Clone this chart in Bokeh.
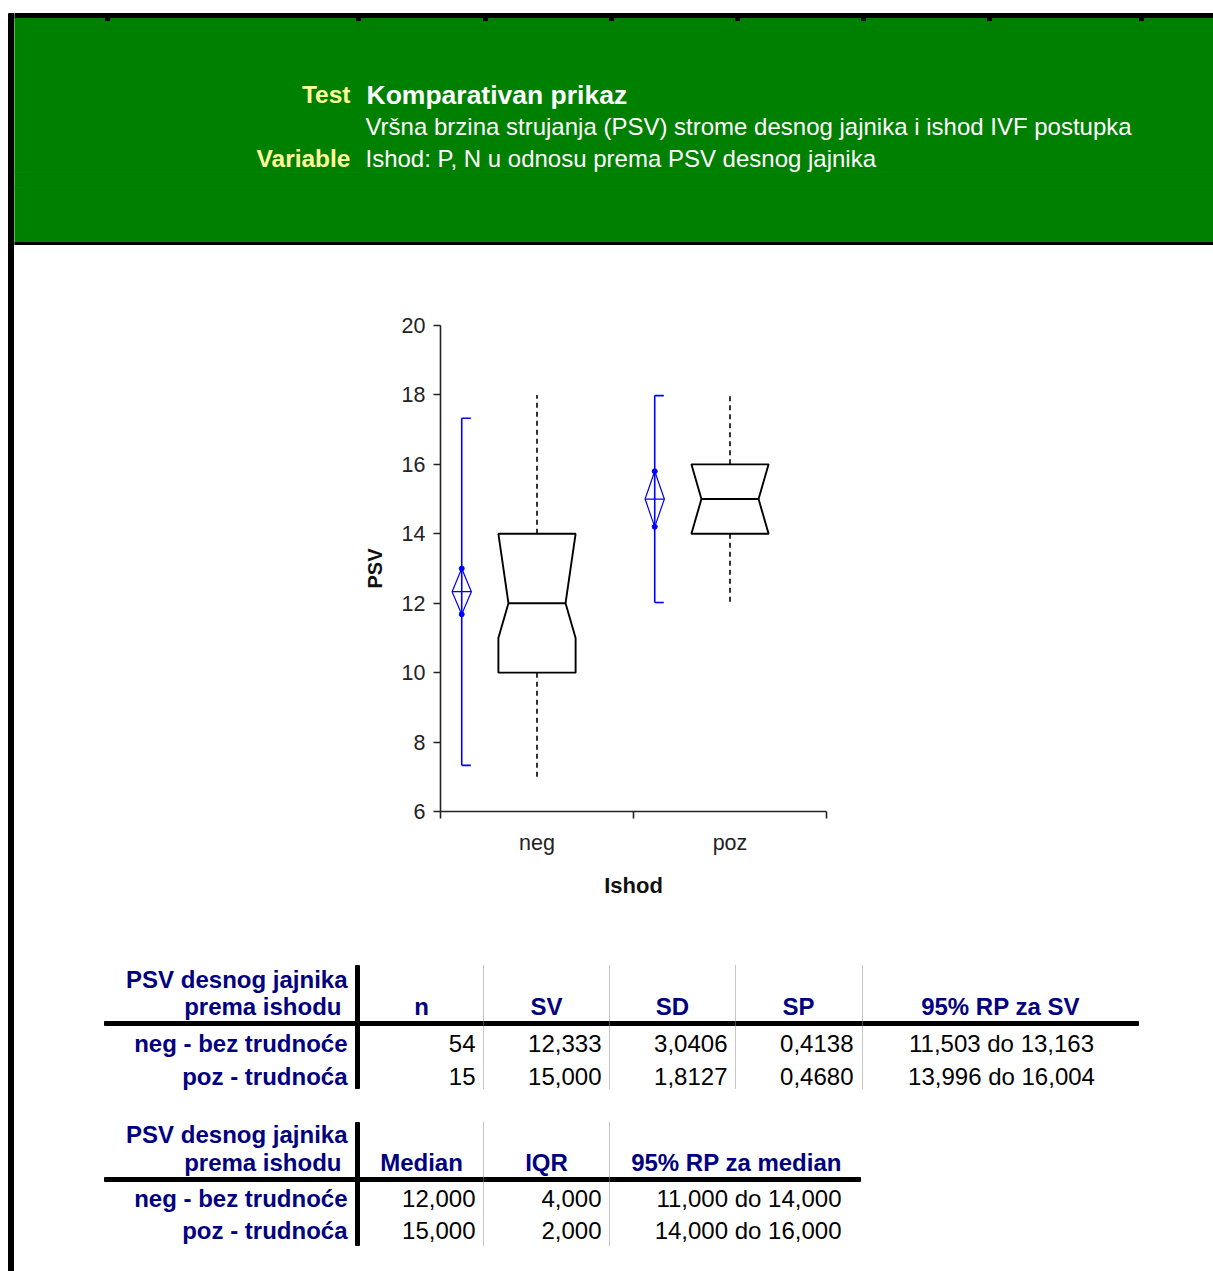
from bokeh.plotting import figure
from bokeh.layouts import row, column
from bokeh.models import FixedTicker, CustomJSTickFormatter, Range1d
from bokeh.embed import file_html
from bokeh.resources import INLINE
from bokeh.core.properties import value

FONT = "Liberation Sans"
NAVY = "#000080"
GREEN = "#008000"
YELLOW = "#FFFF99"

# ---------------- data ----------------
categories = ["neg", "poz"]
row_labels = ["neg - bez trudnoće", "poz - trudnoća"]
n_vals = [54, 15]
mean_vals = [12.333, 15.000]
sd_vals = [3.0406, 1.8127]
se_vals = [0.4138, 0.4680]
mean_ci_lo = [11.503, 13.996]
mean_ci_hi = [13.163, 16.004]
median_vals = [12.0, 15.0]
iqr_vals = [4.0, 2.0]
q1_vals = [10.0, 14.0]
q3_vals = [14.0, 16.0]
median_ci_lo = [11.0, 14.0]
median_ci_hi = [14.0, 16.0]
whisker_lo = [7.0, 12.0]
whisker_hi = [18.0, 18.0]
ref_lo = [7.33, 12.02]          # blue bracket
ref_hi = [17.33, 17.98]
diamond_lo = [11.68, 14.2]      # blue diamond ends
diamond_hi = [13.0, 15.8]
y_ticks = [6, 8, 10, 12, 14, 16, 18, 20]

test_label = "Test"
title_text = "Komparativan prikaz"
subtitle_text = "Vršna brzina strujanja (PSV) strome desnog jajnika i ishod IVF postupka"
variable_label = "Variable"
variable_text = "Ishod: P, N u odnosu prema PSV desnog jajnika"
table_title = ["PSV desnog jajnika", "prema ishodu"]
t1_headers = ["n", "SV", "SD", "SP", "95% RP za SV"]
t2_headers = ["Median", "IQR", "95% RP za median"]


def fmt(v, d):
    return f"{v:.{d}f}".replace(".", ",")


def deco_fig(w, h, x0, x1, y0, y1):
    f = figure(width=w, height=h, x_range=Range1d(x0, x1), y_range=Range1d(y1, y0),
               x_axis_type=None, y_axis_type=None, min_border=0,
               output_backend="svg", toolbar_location=None)
    f.outline_line_color = None
    f.background_fill_color = "white"
    f.border_fill_color = "white"
    f.frame_align = False
    return f


def txt(f, x, y, s, size, color, bold=False, align="left"):
    f.text(x=[x], y=[y], text=[s], text_font=value(FONT), text_font_size=size,
           text_color=color, text_font_style="bold" if bold else "normal",
           text_align=align, text_baseline="alphabetic")


W0, W1, H1 = 14, 1213, 1271
TS = "24px"

# ---------------- left border ----------------
border = deco_fig(W0, H1, 0, W0, 0, H1)
border.quad(left=8, right=14, top=13, bottom=H1, color="black")

# ---------------- header ----------------
hdr = deco_fig(W1 - W0, 245, W0, W1, 0, 245)
hdr.quad(left=W0, right=W1, top=13, bottom=18, color="black")
hdr.quad(left=W0, right=W1, top=18, bottom=242, color=GREEN)
hdr.quad(left=W0, right=W1, top=242, bottom=245, color="black")
for yy in [172, 187]:
    hdr.segment(x0=W0, y0=yy, x1=W1, y1=yy, line_color="#068306", line_width=1)
for xx in [107, 358, 485, 611, 737, 863, 989, 1141]:
    hdr.quad(left=xx - 2, right=xx + 2, top=18, bottom=20, color="black")
txt(hdr, 350, 94, test_label, "24.5px", YELLOW, bold=True, align="right")
txt(hdr, 366, 94, title_text, "26.5px", "white", bold=True)
txt(hdr, 365, 126, subtitle_text, "24px", "white")
txt(hdr, 350, 158, variable_label, "24.5px", YELLOW, bold=True, align="right")
txt(hdr, 365, 158, variable_text, "24px", "white")

# ---------------- box plot ----------------
bp = figure(width=W1 - W0, height=685, x_range=Range1d(0, 2), y_range=Range1d(6, 20),
            min_border_left=440 - W0, min_border_right=W1 - 826, min_border_top=325 - 245,
            min_border_bottom=930 - 811,
            output_backend="svg", toolbar_location=None)
bp.frame_align = False
bp.outline_line_color = None
bp.grid.visible = False
bp.background_fill_color = "white"
bp.border_fill_color = "white"

centers = [i + 0.5 for i in range(len(categories))]
hw, nw = 0.2, 0.148
box_xs, box_ys = [], []
for i, c in enumerate(centers):
    box_xs.append([c - hw, c - hw, c - nw, c - hw, c - hw, c + hw, c + hw, c + nw, c + hw, c + hw])
    box_ys.append([q1_vals[i], median_ci_lo[i], median_vals[i], median_ci_hi[i], q3_vals[i],
                   q3_vals[i], median_ci_hi[i], median_vals[i], median_ci_lo[i], q1_vals[i]])
bp.patches(xs=box_xs, ys=box_ys, fill_color=None, line_color="black", line_width=1.9)
bp.segment(x0=[c - nw for c in centers], x1=[c + nw for c in centers], y0=median_vals, y1=median_vals,
           line_color="black", line_width=1.9)
bp.segment(x0=centers, x1=centers, y0=q3_vals, y1=whisker_hi, line_color="black", line_width=1.6, line_dash="5 4")
bp.segment(x0=centers, x1=centers, y0=q1_vals, y1=whisker_lo, line_color="black", line_width=1.6, line_dash="5 4")

bx = [c - 0.39 for c in centers]
cap, dw = 0.047, 0.05
bp.segment(x0=bx, x1=bx, y0=ref_lo, y1=ref_hi, line_color="blue", line_width=1.6)
bp.segment(x0=bx, x1=[x + cap for x in bx], y0=ref_hi, y1=ref_hi, line_color="blue", line_width=1.6)
bp.segment(x0=bx, x1=[x + cap for x in bx], y0=ref_lo, y1=ref_lo, line_color="blue", line_width=1.6)
bp.patches(xs=[[x - dw, x, x + dw, x] for x in bx],
           ys=[[mean_vals[i], diamond_hi[i], mean_vals[i], diamond_lo[i]] for i in range(len(bx))],
           fill_color=None, line_color="blue", line_width=1.2)
bp.segment(x0=[x - dw for x in bx], x1=[x + dw for x in bx], y0=mean_vals, y1=mean_vals,
           line_color="blue", line_width=1.2)
bp.scatter(x=bx + bx, y=diamond_lo + diamond_hi, size=5, color="blue")

yax = bp.yaxis[0]
yax.ticker = FixedTicker(ticks=y_ticks)
yax.major_tick_out = 7
yax.major_tick_in = 0
yax.minor_tick_out = 0
yax.minor_tick_in = 0
yax.axis_line_width = 1.6
yax.axis_line_color = "#222222"
yax.major_tick_line_width = 1.6
yax.major_tick_line_color = "#222222"
yax.major_label_text_font = FONT
yax.major_label_text_font_size = "21.5px"
yax.major_label_text_color = "#222222"
yax.major_label_standoff = 8
yax.axis_label = "PSV"
yax.axis_label_text_font = FONT
yax.axis_label_text_font_style = "bold"
yax.axis_label_text_font_size = "20px"
yax.axis_label_text_color = "#111111"
yax.axis_label_standoff = 13

xax = bp.xaxis[0]
xax.ticker = FixedTicker(ticks=centers, minor_ticks=[0, 1, 2])
xax.formatter = CustomJSTickFormatter(args=dict(cats=categories), code="return cats[Math.floor(tick)];")
xax.major_tick_out = 0
xax.major_tick_in = 0
xax.minor_tick_out = 7
xax.minor_tick_in = 0
xax.minor_tick_line_width = 1.6
xax.minor_tick_line_color = "#222222"
xax.axis_line_width = 1.6
xax.axis_line_color = "#222222"
xax.major_label_text_font = FONT
xax.major_label_text_font_size = "21.5px"
xax.major_label_text_color = "#222222"
xax.major_label_standoff = 12
xax.axis_label = "Ishod"
xax.axis_label_text_font = FONT
xax.axis_label_text_font_style = "bold"
xax.axis_label_text_font_size = "22px"
xax.axis_label_text_color = "#111111"
xax.axis_label_standoff = 15

# ---------------- tables ----------------
tb = deco_fig(W1 - W0, H1 - 930, W0, W1, 930, H1)

def table(f, top, bottom, rule_y, rule_right, dotted_x, header_y1, header_y2, rows_y):
    f.quad(left=355, right=359, top=top, bottom=bottom, color="black")
    f.quad(left=104, right=rule_right, top=rule_y, bottom=rule_y + 4, color="black")
    for xx in dotted_x:
        f.segment(x0=xx, x1=xx, y0=top, y1=bottom, line_color="#8a8a8a", line_width=1, line_dash="1 1")
    txt(f, 347, header_y1, table_title[0], TS, NAVY, bold=True, align="right")
    txt(f, 341, header_y2, table_title[1], TS, NAVY, bold=True, align="right")
    for i, lab in enumerate(row_labels):
        txt(f, 347, rows_y[i], lab, TS, NAVY, bold=True, align="right")

# table 1
t1_rows = [1043, 1076]
table(tb, 965, 1088, 1021, 1138, [483, 609, 735, 862], 979, 1006, t1_rows)
for h, xc in zip(t1_headers, [421, 546, 672, 798, 1000]):
    txt(tb, xc, 1006, h, TS, NAVY, bold=True, align="center")
for i in range(len(categories)):
    y = t1_rows[i]
    txt(tb, 475, y, str(n_vals[i]), TS, "black", align="right")
    txt(tb, 601, y, fmt(mean_vals[i], 3), TS, "black", align="right")
    txt(tb, 727, y, fmt(sd_vals[i], 4), TS, "black", align="right")
    txt(tb, 853, y, fmt(se_vals[i], 4), TS, "black", align="right")
    txt(tb, 1001, y, f"{fmt(mean_ci_lo[i], 3)} do {fmt(mean_ci_hi[i], 3)}", TS, "black", align="center")

# table 2
t2_rows = [1198, 1230]
table(tb, 1122, 1245, 1177, 860, [483, 609], 1134, 1162, t2_rows)
for h, xc in zip(t2_headers, [421, 546, 736]):
    txt(tb, xc, 1162, h, TS, NAVY, bold=True, align="center")
for i in range(len(categories)):
    y = t2_rows[i]
    txt(tb, 475, y, fmt(median_vals[i], 3), TS, "black", align="right")
    txt(tb, 601, y, fmt(iqr_vals[i], 3), TS, "black", align="right")
    txt(tb, 841, y, f"{fmt(median_ci_lo[i], 3)} do {fmt(median_ci_hi[i], 3)}", TS, "black", align="right")

layout = row(border, column(hdr, bp, tb, spacing=0), spacing=0)
open("out.html", "w").write(file_html(layout, INLINE))
